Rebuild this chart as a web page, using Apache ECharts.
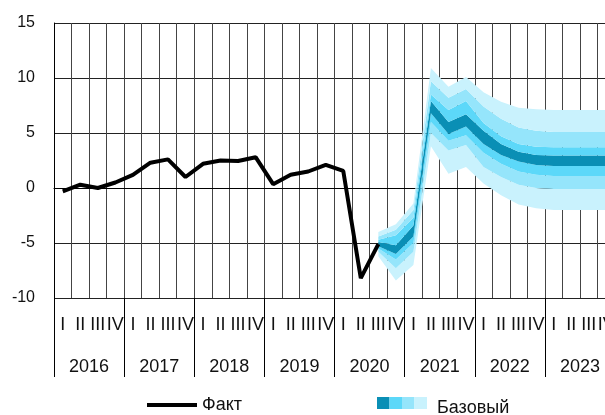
<!DOCTYPE html>
<html>
<head>
<meta charset="utf-8">
<script src="https://cdn.jsdelivr.net/npm/echarts@6/dist/echarts.min.js"></script>
<style>
  html, body { margin: 0; padding: 0; background: #fff; }
  #chart { width: 605px; height: 415px; }
</style>
</head>
<body>
<div id="chart"></div>
<script>
// years and quarter names on the x axis
const years = ['2016', '2017', '2018', '2019', '2020', '2021', '2022', '2023'];
const quarterNames = ['I', 'II', 'III', 'IV'];

// actual values, 2016 I .. 2020 III
const factValues = [-0.3, 0.3, 0.0, 0.5, 1.2, 2.3, 2.6, 1.0, 2.2, 2.5, 2.45, 2.8, 0.35, 1.2, 1.5, 2.1, 1.55, -8.2, -5.1];

// fan bounds, 2020 III .. 2023 IV
const fanStart = 18;
const lightHi  = [-4.0, -3.3, -1.4, 10.9, 9.2, 10.1, 8.7, 7.85, 7.3, 7.15, 7.1, 7.1, 7.1, 7.1];
const midHi    = [-4.4, -3.8, -2.0, 9.7, 8.2, 9.0, 7.4, 6.3, 5.5, 5.2, 5.1, 5.1, 5.1, 5.1];
const brightHi = [-4.7, -4.3, -2.7, 8.5, 7.1, 7.9, 5.9, 4.7, 4.0, 3.75, 3.7, 3.7, 3.7, 3.7];
const darkHi   = [-4.9, -5.2, -3.4, 7.9, 6.0, 6.7, 5.2, 4.0, 3.3, 3.0, 2.95, 2.95, 2.95, 2.95];
const darkLo   = [-5.3, -6.0, -4.4, 6.8, 4.9, 5.6, 4.0, 3.0, 2.4, 2.1, 2.0, 2.0, 2.0, 2.0];
const brightLo = [-5.5, -6.5, -5.0, 6.0, 4.3, 4.8, 3.2, 2.2, 1.5, 1.2, 1.1, 1.1, 1.1, 1.1];
const midLo    = [-5.8, -7.3, -5.8, 5.0, 3.4, 3.9, 1.9, 1.0, 0.3, 0.0, -0.1, -0.1, -0.1, -0.1];
const lightLo  = [-6.2, -8.4, -7.0, 3.8, 1.3, 1.9, 0.4, -0.65, -1.5, -1.85, -2.0, -2.0, -2.0, -2.0];

const colors = { dark: '#0a8fb5', bright: '#5cd8f9', mid: '#95e5fb', light: '#c9f2fd' };

const chart = echarts.init(document.getElementById('chart'));

const quarters = [];
years.forEach(y => quarterNames.forEach(q => quarters.push(y + ' ' + q)));

const pad = new Array(fanStart).fill(null);
const diff = (a, b) => pad.concat(a.map((v, i) => +(v - b[i]).toFixed(3)));

function band(name, data, color) {
  return {
    name: name,
    type: 'line',
    stack: 'fan',
    stackStrategy: 'all',
    data: data,
    symbol: 'none',
    lineStyle: { width: 0 },
    areaStyle: { color: color, opacity: 1 },
    silent: true,
    z: 2
  };
}

const font = 'Liberation Sans, Arial, sans-serif';

const option = {
  animation: false,
  grid: { left: 54, right: -10, top: 23, bottom: 117, outerBoundsMode: 'none' },
  legend: {
    data: [{ name: 'Факт', icon: 'rect' }],
    left: 142,
    top: 391,
    itemWidth: 50,
    itemHeight: 4,
    textStyle: { fontFamily: font, fontSize: 18, color: '#111' }
  },
  graphic: [
    { type: 'rect', left: 377, top: 397, shape: { width: 12.5, height: 12 }, style: { fill: colors.dark } },
    { type: 'rect', left: 389.5, top: 397, shape: { width: 12.5, height: 12 }, style: { fill: colors.bright } },
    { type: 'rect', left: 402, top: 397, shape: { width: 12.5, height: 12 }, style: { fill: colors.mid } },
    { type: 'rect', left: 414.5, top: 397, shape: { width: 12.5, height: 12 }, style: { fill: colors.light } },
    { type: 'text', left: 437, top: 399, style: { text: 'Базовый', fontFamily: font, fontSize: 18, fill: '#111' } }
  ],
  xAxis: [
    {
      type: 'category',
      data: quarters,
      boundaryGap: true,
      axisLine: { show: true, lineStyle: { color: '#000', width: 1 } },
      axisTick: { show: false },
      axisLabel: {
        interval: 0,
        margin: 18,
        fontFamily: font,
        fontSize: 18,
        color: '#111',
        formatter: v => v.split(' ')[1]
      },
      splitLine: { show: true, interval: 0, lineStyle: { color: '#444', width: 1 } }
    },
    {
      type: 'category',
      data: years,
      position: 'bottom',
      boundaryGap: true,
      axisLine: { show: false },
      axisTick: { show: true, interval: 0, length: 79, lineStyle: { color: '#000', width: 1 } },
      axisLabel: { interval: 0, margin: 60, fontFamily: font, fontSize: 18, color: '#111' },
      splitLine: { show: false }
    }
  ],
  yAxis: {
    type: 'value',
    min: -10,
    max: 15,
    interval: 5,
    axisLine: { show: true, lineStyle: { color: '#000', width: 1 } },
    axisTick: { show: false },
    axisLabel: { margin: 19, fontFamily: font, fontSize: 16, color: '#111' },
    splitLine: { show: true, lineStyle: { color: '#222', width: 1 } }
  },
  series: [
    {
      name: 'base',
      type: 'line',
      stack: 'fan',
      stackStrategy: 'all',
      data: pad.concat(lightLo),
      symbol: 'none',
      lineStyle: { width: 0 },
      silent: true
    },
    band('light1', diff(midLo, lightLo), colors.light),
    band('mid1', diff(brightLo, midLo), colors.mid),
    band('bright1', diff(darkLo, brightLo), colors.bright),
    band('dark', diff(darkHi, darkLo), colors.dark),
    band('bright2', diff(brightHi, darkHi), colors.bright),
    band('mid2', diff(midHi, brightHi), colors.mid),
    band('light2', diff(lightHi, midHi), colors.light),
    {
      name: 'Факт',
      type: 'line',
      data: factValues,
      symbol: 'none',
      lineStyle: { color: '#000', width: 4 },
      itemStyle: { color: '#000' },
      z: 5
    }
  ]
};

chart.setOption(option);
</script>
</body>
</html>
